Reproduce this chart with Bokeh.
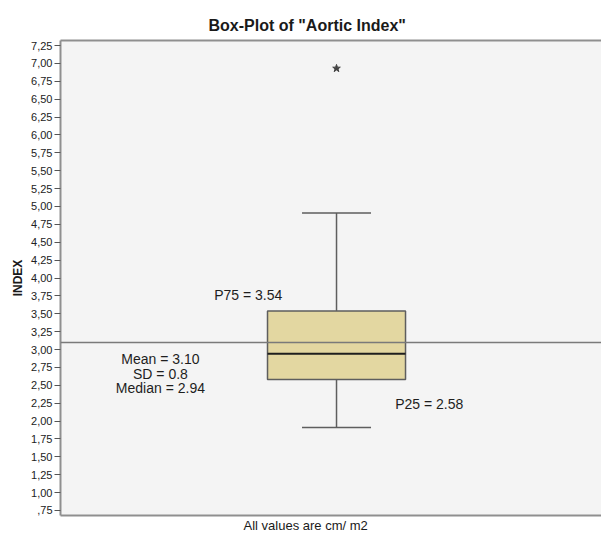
from bokeh.plotting import figure
from bokeh.models import Range1d, FixedTicker, LinearAxis, Span, Label, Title
from bokeh.embed import file_html
from bokeh.resources import INLINE

# ---- data ----
variable = ["Aortic Index"]
q1s = [2.58]
medians = [2.94]
q3s = [3.54]
lower_whiskers = [1.91]
upper_whiskers = [4.91]
means = [3.10]
sds = [0.8]
outliers = [6.93]
tick_values = [0.75, 1.00, 1.25, 1.50, 1.75, 2.00, 2.25, 2.50, 2.75, 3.00, 3.25, 3.50, 3.75,
               4.00, 4.25, 4.50, 4.75, 5.00, 5.25, 5.50, 5.75, 6.00, 6.25, 6.50, 6.75, 7.00, 7.25]
tick_labels = [",75", "1,00", "1,25", "1,50", "1,75", "2,00", "2,25", "2,50", "2,75", "3,00",
               "3,25", "3,50", "3,75", "4,00", "4,25", "4,50", "4,75", "5,00", "5,25", "5,50",
               "5,75", "6,00", "6,25", "6,50", "6,75", "7,00", "7,25"]
title_text = 'Box-Plot of "Aortic Index"'
x_label_text = "All values are cm/ m2"
y_label_text = "INDEX"

# ---- layout constants ----
FONT = "Liberation Sans"
BOX_X = 0.5
BOX_W = 0.25
CAP_W = 0.125
GRAY = "#8f8f8f"
LINE = "#5e5e5e"

p = figure(width=601, height=534, output_backend="svg", toolbar_location=None,
           x_range=Range1d(0, 0.98), y_range=Range1d(0.68, 7.32),
           min_border_left=60, min_border_right=0, min_border_top=40, min_border_bottom=19,
           x_axis_location=None, y_axis_location=None)
p.background_fill_color = "#f4f4f4"
p.border_fill_color = "white"
p.outline_line_color = None
p.grid.visible = False

# left axis
yax = LinearAxis(ticker=FixedTicker(ticks=tick_values))
yax.major_label_overrides = {v: l for v, l in zip(tick_values, tick_labels)}
yax.major_tick_out = 6
yax.major_tick_in = 0
yax.minor_tick_out = 0
yax.minor_tick_in = 0
yax.axis_line_color = GRAY
yax.axis_line_width = 2
yax.major_tick_line_color = "#555555"
yax.major_tick_line_width = 1
yax.major_label_text_font = FONT
yax.major_label_text_font_size = "11px"
yax.major_label_text_color = "#222222"
yax.major_label_standoff = 2
yax.axis_label = y_label_text
yax.axis_label_text_font = FONT
yax.axis_label_text_font_size = "12px"
yax.axis_label_text_font_style = "bold"
yax.axis_label_text_color = "#1a1a1a"
yax.axis_label_standoff = 3
p.add_layout(yax, "left")

# border axes (lines only), added before the titles so they sit next to the frame
for loc in ("below", "above"):
    ax = LinearAxis(ticker=FixedTicker(ticks=[]))
    ax.axis_line_color = GRAY
    ax.axis_line_width = 2
    ax.major_tick_out = 0
    ax.major_tick_in = 0
    ax.minor_tick_out = 0
    ax.minor_tick_in = 0
    ax.major_label_standoff = 0
    p.add_layout(ax, loc)

# title (above) and x-label (below)
p.add_layout(Title(text=title_text, align="left", offset=148, standoff=14,
                   text_font=FONT, text_font_size="16px", text_font_style="bold",
                   text_color="#1a1a1a"), "above")
p.add_layout(Title(text=x_label_text, align="left", offset=183, standoff=0,
                   text_font=FONT, text_font_size="13px", text_font_style="normal",
                   text_color="#1a1a1a"), "below")

xs = [BOX_X] * len(variable)

# whiskers
p.segment(x0=xs, y0=q3s, x1=xs, y1=upper_whiskers, line_color=LINE, line_width=1.5)
p.segment(x0=xs, y0=lower_whiskers, x1=xs, y1=q1s, line_color=LINE, line_width=1.5)
p.segment(x0=[x - CAP_W / 2 for x in xs], y0=upper_whiskers,
          x1=[x + CAP_W / 2 for x in xs], y1=upper_whiskers, line_color=LINE, line_width=1.5)
p.segment(x0=[x - CAP_W / 2 for x in xs], y0=lower_whiskers,
          x1=[x + CAP_W / 2 for x in xs], y1=lower_whiskers, line_color=LINE, line_width=1.5)

# box
p.vbar(x=xs, width=BOX_W, bottom=q1s, top=q3s, fill_color="#e3d7a1",
       line_color=LINE, line_width=1.5)
# median
p.segment(x0=[x - BOX_W / 2 for x in xs], y0=medians,
          x1=[x + BOX_W / 2 for x in xs], y1=medians, line_color="#1e1e1e", line_width=2)

# outlier
p.scatter(x=[BOX_X] * len(outliers), y=outliers, marker="star", size=8,
          fill_color="#444444", line_color="#444444")

# mean line
p.add_layout(Span(location=means[0], dimension="width", line_color="#7a7a7a", line_width=1.5))

# annotations
def lab(x, y, text):
    p.add_layout(Label(x=x, y=y, text=text, text_font=FONT, text_font_size="14px",
                       text_color="#1e1e1e", text_align="center", text_baseline="middle"))

lab(0.34, 3.756, f"P75 = {q3s[0]:.2f}")
lab(0.181, 2.861, f"Mean = {means[0]:.2f}")
lab(0.181, 2.665, f"SD = {sds[0]}")
lab(0.181, 2.456, f"Median = {medians[0]:.2f}")
lab(0.668, 2.232, f"P25 = {q1s[0]:.2f}")

open("out.html", "w").write(file_html(p, INLINE))
